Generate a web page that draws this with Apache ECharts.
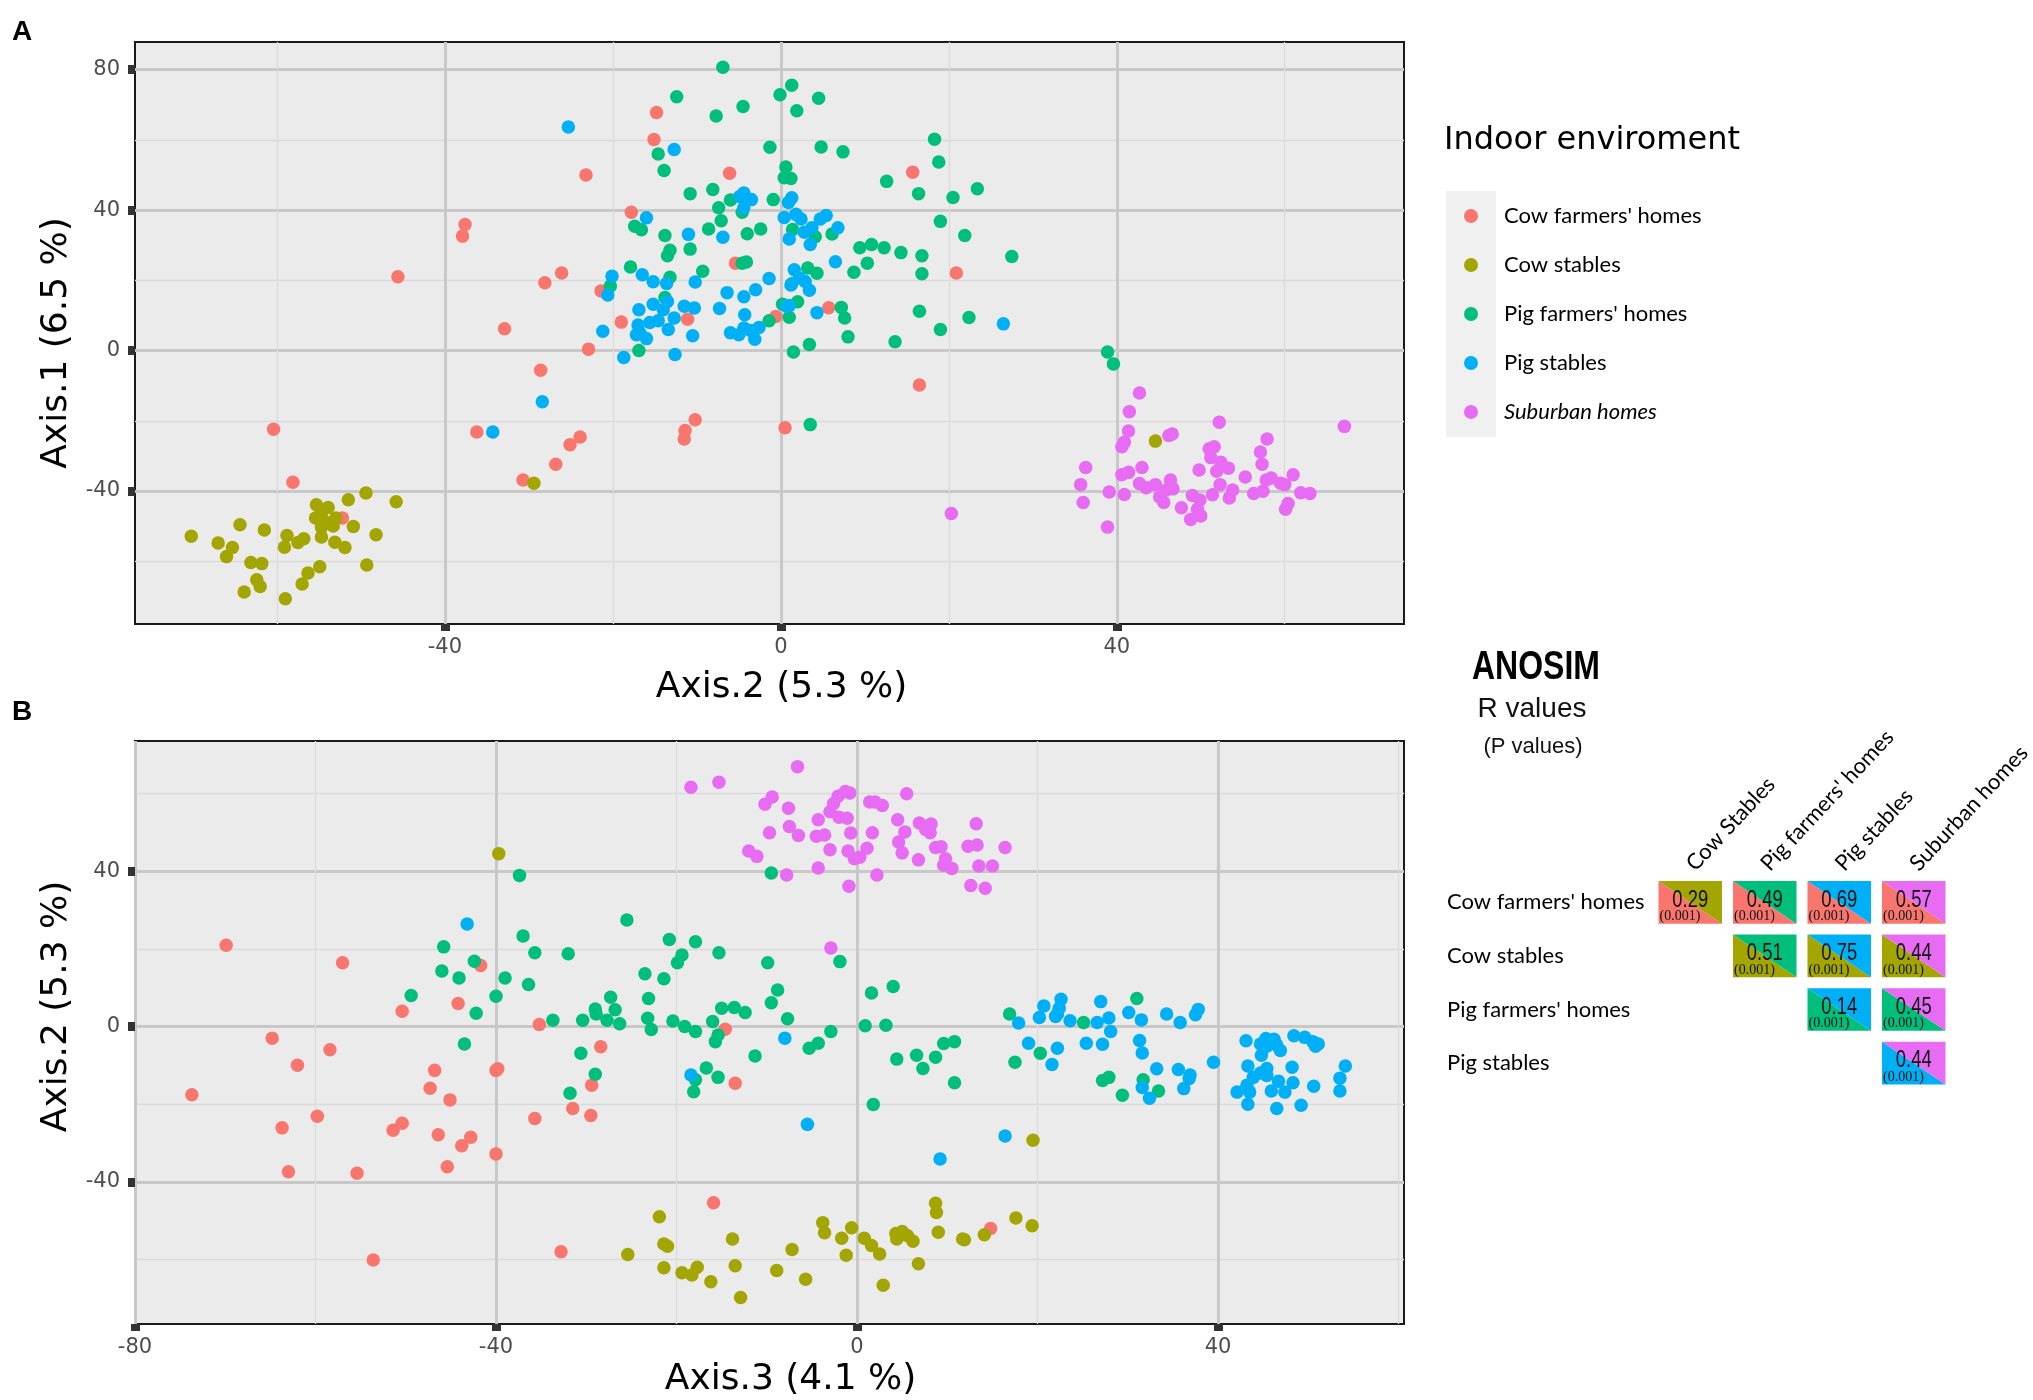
<!DOCTYPE html>
<html>
<head>
<meta charset="utf-8">
<title>Indoor environment PCoA and ANOSIM</title>
<script src="https://cdn.jsdelivr.net/npm/echarts@6.0.0/dist/echarts.min.js"></script>
<style>
    html, body { margin: 0; padding: 0; background: #fff; }
    #chart { width: 2033px; height: 1400px; }
</style>
</head>
<body>
<div id="chart"></div>
<script>
// Groups and ggplot default hue colours
var groups = ["Cow farmers' homes", 'Cow stables', "Pig farmers' homes", 'Pig stables', 'Suburban homes'];
var groupColors = ['#F8766D', '#A3A500', '#00BF7D', '#00B0F6', '#E76BF3'];

// Panel A: x = Axis.2, y = Axis.1
var cowHomesA = [[-14.8,67.8],[-15.1,60.1],[-23.2,50.0],[-37.6,35.9],[-37.9,32.6],[-45.6,21.0],[-17.8,39.4],[-26.1,22.1],[-28.1,19.3],[-21.4,17.0],[-32.9,6.2],[-19.0,8.1],[-22.9,0.4],[-28.6,-5.6],[-60.4,-22.4],[-36.2,-23.2],[-23.9,-24.6],[-25.1,-26.8],[-26.8,-32.4],[-30.7,-36.9],[-58.1,-37.5],[-52.2,-47.7],[-10.2,-19.7],[-11.4,-22.8],[-11.5,-25.2],[-11.1,8.9],[-6.1,50.5],[15.7,50.8],[-5.4,24.9],[20.9,22.1],[5.7,12.2],[-0.6,9.7],[16.5,-9.8],[0.5,-22.0]];
var cowStablesA = [[-29.4,-37.8],[-55.3,-43.9],[-53.9,-44.7],[-54.7,-46.4],[-55.4,-47.7],[-53.0,-47.7],[-54.1,-49.0],[-54.7,-50.3],[-53.3,-50.0],[-51.5,-42.5],[-49.4,-40.6],[-45.8,-43.1],[-50.9,-50.1],[-48.2,-52.5],[-64.4,-49.6],[-61.5,-51.1],[-70.2,-52.9],[-67.0,-54.8],[-65.3,-56.1],[-66.0,-58.7],[-63.1,-60.4],[-61.8,-60.7],[-58.8,-52.7],[-59.1,-56.0],[-57.5,-54.7],[-56.8,-53.6],[-54.7,-53.1],[-53.1,-54.6],[-51.9,-56.1],[-49.3,-61.1],[-54.9,-61.6],[-56.3,-63.4],[-57.0,-66.5],[-62.4,-65.3],[-62.0,-67.2],[-63.9,-68.8],[-59.0,-70.7],[44.6,-25.8]];
var pigHomesA = [[-12.4,72.3],[-14.6,56.0],[-13.9,51.3],[-10.8,44.7],[-17.4,35.4],[-16.6,34.4],[-13.8,32.8],[-10.8,28.9],[-13.2,28.6],[-13.5,27.0],[-17.9,23.8],[-13.2,20.9],[-20.3,18.4],[-13.8,15.1],[-16.9,0.0],[-6.9,80.7],[1.3,75.6],[-0.1,72.9],[4.5,71.9],[-4.5,69.5],[1.9,68.3],[-7.7,66.8],[-1.3,57.9],[4.8,58.0],[7.4,56.6],[18.3,60.2],[18.8,53.7],[0.6,52.3],[0.4,49.2],[1.2,49.0],[12.6,48.2],[16.4,44.7],[20.5,43.6],[23.4,46.1],[-8.1,45.9],[-6.0,42.9],[-0.9,43.0],[-7.4,40.7],[-4.6,39.4],[-7.1,37.0],[-8.6,34.6],[-4.0,33.3],[-2.4,34.6],[1.4,34.5],[4.1,32.4],[6.1,33.2],[19.0,36.8],[21.9,32.8],[27.5,26.8],[9.4,29.3],[10.8,30.2],[12.3,29.3],[14.3,27.9],[16.8,27.0],[16.8,21.9],[10.3,24.9],[8.7,22.3],[-4.6,24.9],[-4.1,25.2],[-9.3,22.6],[3.2,23.5],[4.3,22.0],[1.3,19.0],[2.0,13.9],[0.2,13.2],[1.0,9.5],[-1.4,8.5],[7.2,12.3],[7.6,9.3],[8.0,3.9],[16.5,11.2],[19.0,6.0],[22.4,9.4],[13.6,2.5],[3.4,1.7],[1.5,-0.4],[38.9,-0.4],[39.6,-3.8],[3.5,-21.1]];
var pigStablesA = [[-25.3,63.7],[-12.7,57.3],[-16.0,37.8],[-11.0,33.1],[-20.1,21.2],[-16.5,21.6],[-15.2,19.6],[-13.6,19.1],[-10.2,19.5],[-20.6,15.8],[-15.2,13.2],[-13.5,14.0],[-16.9,11.6],[-14.0,11.6],[-11.5,12.6],[-10.3,12.1],[-12.7,9.3],[-17.0,7.3],[-15.6,8.0],[-14.6,8.5],[-16.8,5.1],[-16.0,3.4],[-17.2,4.5],[-13.4,6.0],[-21.2,5.5],[-10.5,4.2],[-18.7,-2.0],[-12.6,-1.1],[-28.4,-14.6],[-34.3,-23.2],[-4.4,44.9],[-3.5,43.0],[-4.9,43.9],[0.9,42.2],[1.3,43.5],[-4.4,40.7],[0.4,37.9],[1.8,38.8],[2.4,37.5],[4.7,37.5],[5.4,38.5],[6.8,35.0],[-6.9,32.3],[1.0,31.8],[2.8,33.7],[3.5,30.2],[3.7,35.0],[6.5,25.3],[1.6,23.0],[2.2,20.7],[2.9,19.7],[3.4,17.2],[1.2,18.7],[-1.4,20.5],[-3.0,17.3],[-6.4,16.5],[-4.4,15.3],[-7.3,12.0],[-4.3,10.2],[0.7,12.6],[1.0,12.8],[4.3,10.8],[-6.0,5.1],[-5.0,4.5],[-4.4,6.4],[-3.6,5.7],[-3.1,3.2],[-2.6,6.6],[26.5,7.6]];
var suburbanA = [[20.3,-46.4],[42.7,-12.1],[41.5,-17.4],[41.4,-22.9],[40.9,-26.1],[40.6,-27.4],[46.2,-24.2],[46.6,-23.8],[52.2,-20.4],[67.1,-21.6],[57.9,-25.2],[57.1,-28.9],[51.0,-28.0],[51.6,-27.4],[51.2,-30.5],[52.4,-31.8],[51.9,-34.4],[53.3,-33.5],[49.8,-34.0],[57.3,-32.4],[36.3,-33.3],[35.7,-38.2],[36.0,-43.3],[39.1,-40.3],[40.9,-41.0],[38.9,-50.3],[40.6,-35.4],[41.4,-34.7],[43.0,-33.3],[42.7,-37.9],[43.5,-39.1],[44.6,-38.2],[46.4,-36.9],[45.9,-39.7],[46.7,-39.4],[45.1,-41.7],[45.6,-43.3],[47.7,-44.8],[49.0,-41.3],[49.9,-42.6],[49.6,-45.2],[48.8,-48.1],[50.0,-47.1],[51.4,-41.1],[52.3,-38.2],[53.4,-42.0],[53.8,-39.7],[55.3,-36.0],[56.3,-40.7],[57.4,-40.1],[57.8,-36.9],[58.4,-36.3],[59.5,-37.8],[60.0,-38.2],[61.0,-35.4],[61.9,-40.5],[63.0,-40.7],[60.4,-43.6],[60.1,-45.2]];

// Panel B: x = Axis.3, y = Axis.2
var cowHomesB = [[-69.9,20.9],[-57.0,16.4],[-41.7,15.7],[-50.4,3.9],[-44.2,5.9],[-35.2,0.5],[-64.8,-3.0],[-58.4,-6.0],[-62.0,-10.0],[-46.8,-11.3],[-40.0,-11.3],[-39.8,-10.9],[-47.3,-15.9],[-45.1,-18.9],[-73.7,-17.6],[-59.8,-23.1],[-63.7,-26.1],[-51.4,-26.7],[-50.4,-24.9],[-46.4,-27.9],[-42.8,-28.5],[-43.8,-30.7],[-45.4,-36.1],[-40.0,-32.8],[-63.0,-37.4],[-55.4,-37.8],[-35.7,-23.7],[-31.5,-21.1],[-29.5,-22.9],[-29.4,-15.1],[-28.4,-5.2],[-32.8,-58.0],[-53.6,-60.1],[-14.6,-0.7],[-13.5,-14.6],[-15.9,-45.4],[14.8,-52.0]];
var cowStablesB = [[-39.7,44.5],[-21.9,-49.0],[-21.4,-56.0],[-21.0,-56.6],[-25.4,-58.7],[-21.4,-62.1],[-19.4,-63.4],[-18.3,-64.0],[-17.7,-62.0],[19.5,-29.3],[8.7,-45.5],[8.8,-47.9],[17.6,-49.3],[19.4,-51.3],[-3.8,-50.5],[-3.6,-53.1],[-0.6,-51.8],[-1.7,-54.5],[-1.2,-58.9],[0.8,-54.5],[1.6,-56.4],[2.5,-58.6],[4.3,-53.3],[4.4,-54.7],[5.0,-52.8],[5.6,-53.9],[6.2,-55.3],[6.8,-61.1],[2.9,-66.6],[9.0,-53.0],[11.7,-54.7],[11.9,-54.9],[14.1,-53.6],[-13.8,-54.7],[-7.2,-57.4],[-13.5,-61.6],[-8.9,-62.8],[-5.7,-65.1],[-16.2,-65.7],[-12.9,-69.8]];
var pigHomesB = [[-37.4,38.9],[-25.5,27.4],[-37.0,23.3],[-20.8,22.4],[-17.9,21.8],[-45.8,20.5],[-35.7,19.0],[-32.0,18.7],[-19.4,18.4],[-19.9,16.4],[-42.4,16.8],[-46.0,14.3],[-44.1,12.5],[-39.0,12.5],[-36.4,10.8],[-23.5,13.6],[-21.4,12.3],[-49.4,8.0],[-40.0,7.8],[-27.3,7.5],[-23.1,7.2],[-42.2,3.4],[-29.0,4.5],[-28.9,3.2],[-26.8,4.3],[-33.7,1.6],[-30.4,1.6],[-27.7,1.6],[-26.3,0.7],[-23.2,2.1],[-20.4,1.4],[-19.1,0.0],[-22.8,-0.8],[-17.9,-1.3],[-43.5,-4.5],[-30.6,-6.9],[-29.0,-12.3],[-31.8,-17.2],[-17.9,-13.7],[-18.1,-16.8],[-9.5,39.5],[-15.3,19.0],[-9.9,16.4],[-1.9,16.7],[-8.8,9.4],[-9.5,6.1],[1.6,8.6],[4.0,10.3],[-15.0,4.7],[-13.6,4.9],[-12.4,3.6],[-7.7,2.0],[-16.0,1.3],[-15.4,-2.2],[-15.7,-3.9],[-2.9,-1.3],[0.9,0.2],[3.2,0.3],[-4.3,-4.3],[-5.3,-5.6],[-11.3,-7.6],[-16.7,-10.7],[-15.4,-13.1],[4.4,-8.4],[6.6,-7.4],[7.3,-10.8],[8.7,-7.9],[9.6,-4.4],[10.8,-3.9],[10.8,-14.5],[1.8,-20.1],[16.9,3.2],[17.5,-9.2],[20.3,-6.9],[25.1,1.0],[31.0,7.2],[31.7,-13.7],[27.2,-13.9],[27.9,-13.1],[29.4,-17.7],[33.4,-16.6]];
var pigStablesB = [[-43.2,26.4],[-18.4,-12.5],[-8.0,-3.0],[-5.5,-25.2],[9.2,-34.1],[16.4,-28.2],[17.9,0.9],[19.0,-4.3],[20.2,2.3],[20.7,5.3],[22.2,3.2],[22.6,7.0],[22.0,2.6],[22.4,4.7],[23.6,1.5],[22.2,-5.6],[21.6,-9.8],[25.4,-4.3],[26.6,1.0],[27.0,6.4],[27.2,-4.6],[27.9,2.2],[28.1,-1.3],[30.1,3.6],[31.5,1.7],[31.3,-3.6],[31.6,-6.8],[31.6,-15.7],[32.4,-18.5],[33.2,-10.9],[34.3,3.2],[35.8,1.0],[35.6,-11.1],[36.9,-12.5],[36.8,-13.4],[36.2,-16.0],[37.5,3.0],[37.8,4.4],[39.5,-9.2],[43.1,-3.7],[43.3,-10.2],[42.1,-16.9],[43.3,-20.0],[43.2,-15.1],[43.5,-16.9],[43.9,-13.1],[44.8,-7.4],[44.7,-4.5],[45.3,-3.1],[45.4,-5.1],[46.2,-3.3],[45.4,-10.8],[44.7,-12.0],[46.5,-4.8],[46.9,-6.2],[45.4,-12.6],[45.9,-16.6],[46.5,-21.1],[46.7,-14.1],[47.4,-16.9],[48.2,-10.5],[48.3,-14.5],[48.4,-2.4],[49.2,-20.3],[49.6,-2.8],[50.5,-3.9],[50.8,-5.1],[51.1,-4.5],[50.6,-15.4],[53.5,-13.3],[53.5,-16.6],[54.1,-10.2]];
var suburbanB = [[-18.4,61.6],[-6.6,66.9],[-15.3,62.9],[-10.2,57.2],[-9.4,59.1],[-7.6,56.2],[-9.7,49.9],[-7.5,51.5],[-6.5,49.2],[-12.0,45.2],[-11.1,43.8],[-7.8,39.0],[-4.3,53.2],[-4.5,49.0],[-3.6,49.3],[-3.0,45.5],[-4.3,40.8],[-3.0,55.3],[-2.6,57.4],[-2.1,59.3],[-1.3,60.5],[-0.8,60.1],[-2.0,53.9],[-1.1,53.6],[-0.7,49.8],[-1.0,45.2],[-0.3,43.2],[0.3,43.6],[-0.9,36.1],[1.1,45.9],[1.7,49.9],[1.4,57.8],[2.0,57.8],[2.8,56.9],[2.2,39.0],[5.5,59.9],[4.5,53.2],[5.3,50.1],[4.6,47.5],[5.0,44.7],[6.8,42.9],[6.9,52.4],[7.6,50.7],[8.2,52.1],[8.1,49.9],[8.7,46.1],[9.3,46.3],[9.6,41.5],[9.8,43.2],[10.5,40.7],[12.3,46.4],[13.3,46.7],[13.2,52.2],[13.5,41.3],[15.0,41.3],[16.4,46.1],[12.6,36.3],[14.2,35.6],[-2.9,20.2]];

// Axis ranges and tick values
var rangeAX = [-76.9, 74.2], rangeAY = [-77.9, 87.9];
var rangeBX = [-80, 60.6], rangeBY = [-76.6, 73.5];
var ticksAX = [-40, 0, 40], minorAX = [-60, -20, 20, 60];
var ticksAY = [-40, 0, 40, 80], minorAY = [-60, -20, 20, 60];
var ticksBX = [-80, -40, 0, 40], minorBX = [-60, -20, 20, 60];
var ticksBY = [-40, 0, 40], minorBY = [-60, -20, 20, 60];

// ANOSIM R values (P values)
var anosimRows = ["Cow farmers' homes", 'Cow stables', "Pig farmers' homes", 'Pig stables'];
var anosimCols = ['Cow Stables', "Pig farmers' homes", 'Pig stables', 'Suburban homes'];
var anosimR = [
    [0.29, 0.49, 0.69, 0.57],
    [null, 0.51, 0.75, 0.44],
    [null, null, 0.14, 0.45],
    [null, null, null, 0.44]
];
var anosimP = [
    [0.001, 0.001, 0.001, 0.001],
    [null, 0.001, 0.001, 0.001],
    [null, null, 0.001, 0.001],
    [null, null, null, 0.001]
];

var panelA = [cowHomesA, cowStablesA, pigHomesA, pigStablesA, suburbanA];
var panelB = [cowHomesB, cowStablesB, pigHomesB, pigStablesB, suburbanB];

// cells: [col, row, R, P, row group, col group]
var anosimCells = [];
anosimR.forEach(function (row, i) {
    row.forEach(function (r, j) {
        if (r !== null) {
            anosimCells.push([j, i, r, anosimP[i][j], i, j + 1]);
        }
    });
});

var chart = echarts.init(document.getElementById('chart'));

function mainAxis(grid, range, ticks, name, gap, labelMargin, namePad) {
    return {
        type: 'value',
        gridIndex: grid,
        min: range[0],
        max: range[1],
        name: name,
        nameLocation: 'middle',
        nameGap: gap,
        nameTextStyle: { fontFamily: 'DejaVu Sans', fontSize: 36, color: '#000', padding: namePad },
        axisLine: { show: false, onZero: false },
        axisTick: { show: true, length: 7, customValues: ticks, lineStyle: { color: '#333', width: 9 } },
        axisLabel: { customValues: ticks, margin: labelMargin, color: '#4D4D4D', fontFamily: 'DejaVu Sans', fontSize: 21 },
        splitLine: { show: true, lineStyle: { color: '#C8C8C8', width: 3 } }
    };
}

function minorAxis(grid, range, ticks) {
    return {
        type: 'value',
        gridIndex: grid,
        min: range[0],
        max: range[1],
        axisLine: { show: false, onZero: false },
        axisTick: { show: false, customValues: ticks },
        axisLabel: { show: false, customValues: ticks },
        splitLine: { show: true, lineStyle: { color: '#DADADA', width: 1.3 } }
    };
}

function scatterSeries(data, k, xi, yi) {
    return {
        name: groups[k],
        type: 'scatter',
        xAxisIndex: xi,
        yAxisIndex: yi,
        symbol: 'circle',
        symbolSize: 13.5,
        itemStyle: { color: groupColors[k], opacity: 1 },
        data: data
    };
}

// ANOSIM cell: lower-left triangle = row group, upper-right = column group
function renderCell(params, api) {
    var c = api.coord([api.value(0), api.value(1)]);
    var s = api.size([1, 1]);
    var w = s[0] * 0.853, h = s[1] * 0.797;
    var x0 = c[0] - w / 2, y0 = c[1] - h / 2;
    return {
        type: 'group',
        children: [
            { type: 'polygon', shape: { points: [[x0, y0], [x0, y0 + h], [x0 + w, y0 + h]] },
              style: { fill: groupColors[api.value(4)] } },
            { type: 'polygon', shape: { points: [[x0, y0], [x0 + w, y0], [x0 + w, y0 + h]] },
              style: { fill: groupColors[api.value(5)] } },
            { type: 'text', x: c[0], y: y0 + h * 0.45, scaleX: 0.8,
              style: { text: api.value(2).toFixed(2), fill: '#111', fontFamily: 'Liberation Sans', fontSize: 23,
                       align: 'center', verticalAlign: 'middle', textAlign: 'center', textVerticalAlign: 'middle' } },
            { type: 'text', x: x0 + 1, y: y0 + h * 0.83,
              style: { text: '(' + api.value(3).toFixed(3) + ')', fill: '#111', fontFamily: 'Liberation Serif', fontSize: 14,
                       align: 'left', verticalAlign: 'middle', textAlign: 'left', textVerticalAlign: 'middle' } }
        ]
    };
}

var series = [];
panelA.forEach(function (d, k) { series.push(scatterSeries(d, k, 0, 0)); });
panelB.forEach(function (d, k) { series.push(scatterSeries(d, k, 2, 2)); });
series.push({
    name: 'ANOSIM',
    type: 'custom',
    xAxisIndex: 4,
    yAxisIndex: 4,
    renderItem: renderCell,
    encode: { x: 0, y: 1 },
    silent: true,
    data: anosimCells
});

chart.setOption({
    animation: false,
    backgroundColor: '#fff',

    // Panel letters and legend title
    title: [
        { text: 'A', left: 12, top: 18, padding: 0,
          textStyle: { fontFamily: 'Liberation Sans', fontWeight: 'bold', fontSize: 28, color: '#000' } },
        { text: 'B', left: 12, top: 698, padding: 0,
          textStyle: { fontFamily: 'Liberation Sans', fontWeight: 'bold', fontSize: 28, color: '#000' } },
        { text: 'Indoor enviroment', left: 1444, top: 125, padding: 0,
          textStyle: { fontFamily: 'DejaVu Sans', fontWeight: 'normal', fontSize: 32, color: '#000' } }
    ],

    legend: {
        data: groups,
        orient: 'vertical',
        left: 1464,
        top: 203,
        padding: 0,
        itemWidth: 14,
        itemHeight: 14,
        itemGap: 23,
        icon: 'circle',
        textStyle: {
            fontFamily: 'Lato', fontSize: 22, lineHeight: 26, color: '#000', padding: [0, 0, 0, 21],
            rich: { it: { fontFamily: 'Lato', fontSize: 22, lineHeight: 26, fontStyle: 'italic', color: '#000' } }
        },
        formatter: function (name) {
            return name === 'Suburban homes' ? '{it|' + name + '}' : name;
        }
    },

    grid: [
        { left: 135, top: 42, width: 1269, height: 582, show: true, outerBoundsMode: 'none',
          backgroundColor: '#EBEBEB', borderColor: '#1a1a1a', borderWidth: 2 },
        { left: 135, top: 741, width: 1269, height: 583, show: true, outerBoundsMode: 'none',
          backgroundColor: '#EBEBEB', borderColor: '#1a1a1a', borderWidth: 2 },
        { left: 1653, top: 875.5, width: 298, height: 214.4, show: false, outerBoundsMode: 'none' }
    ],

    xAxis: [
        mainAxis(0, rangeAX, ticksAX, 'Axis.2 (5.3 %)', 46, 13, [0, 0, 0, 24]),
        minorAxis(0, rangeAX, minorAX),
        mainAxis(1, rangeBX, ticksBX, 'Axis.3 (4.1 %)', 38, 13, [0, 0, 0, 42]),
        minorAxis(1, rangeBX, minorBX),
        {
            type: 'category', gridIndex: 2, position: 'top', data: anosimCols,
            axisLine: { show: false }, axisTick: { show: false }, splitLine: { show: false },
            axisLabel: { interval: 0, rotate: -47, margin: 8, verticalAlign: 'middle',
                         fontFamily: 'Lato', fontSize: 22, color: '#000' }
        }
    ],

    yAxis: [
        mainAxis(0, rangeAY, ticksAY, 'Axis.1 (6.5 %)', 59, 15, [0, 20, 0, 0]),
        minorAxis(0, rangeAY, minorAY),
        mainAxis(1, rangeBY, ticksBY, 'Axis.2 (5.3 %)', 54, 15, [0, 0, 0, 52]),
        minorAxis(1, rangeBY, minorBY),
        {
            type: 'category', gridIndex: 2, inverse: true, data: anosimRows,
            axisLine: { show: false }, axisTick: { show: false }, splitLine: { show: false },
            axisLabel: { interval: 0, align: 'left', margin: 206, padding: [0, 0, 8, 0],
                         fontFamily: 'Lato', fontSize: 22, color: '#000' }
        }
    ],

    graphic: [
        // grey legend key panel
        { type: 'rect', z: 0, shape: { x: 1446, y: 191, width: 50, height: 246 }, style: { fill: '#F0F0F0' } },
        { type: 'text', x: 1536, y: 668, scaleX: 0.8,
          style: { text: 'ANOSIM', fontFamily: 'Liberation Sans', fontWeight: 'bold', fontSize: 40, fill: '#000',
                   align: 'center', verticalAlign: 'middle', textAlign: 'center', textVerticalAlign: 'middle' } },
        { type: 'text', x: 1532, y: 709,
          style: { text: 'R values', fontFamily: 'Liberation Sans', fontSize: 28, fill: '#111',
                   align: 'center', verticalAlign: 'middle', textAlign: 'center', textVerticalAlign: 'middle' } },
        { type: 'text', x: 1533, y: 747,
          style: { text: '(P values)', fontFamily: 'Liberation Sans', fontSize: 22, fill: '#111',
                   align: 'center', verticalAlign: 'middle', textAlign: 'center', textVerticalAlign: 'middle' } }
    ],

    series: series
});

window.addEventListener('resize', function () {
    chart.resize();
});
</script>
</body>
</html>
